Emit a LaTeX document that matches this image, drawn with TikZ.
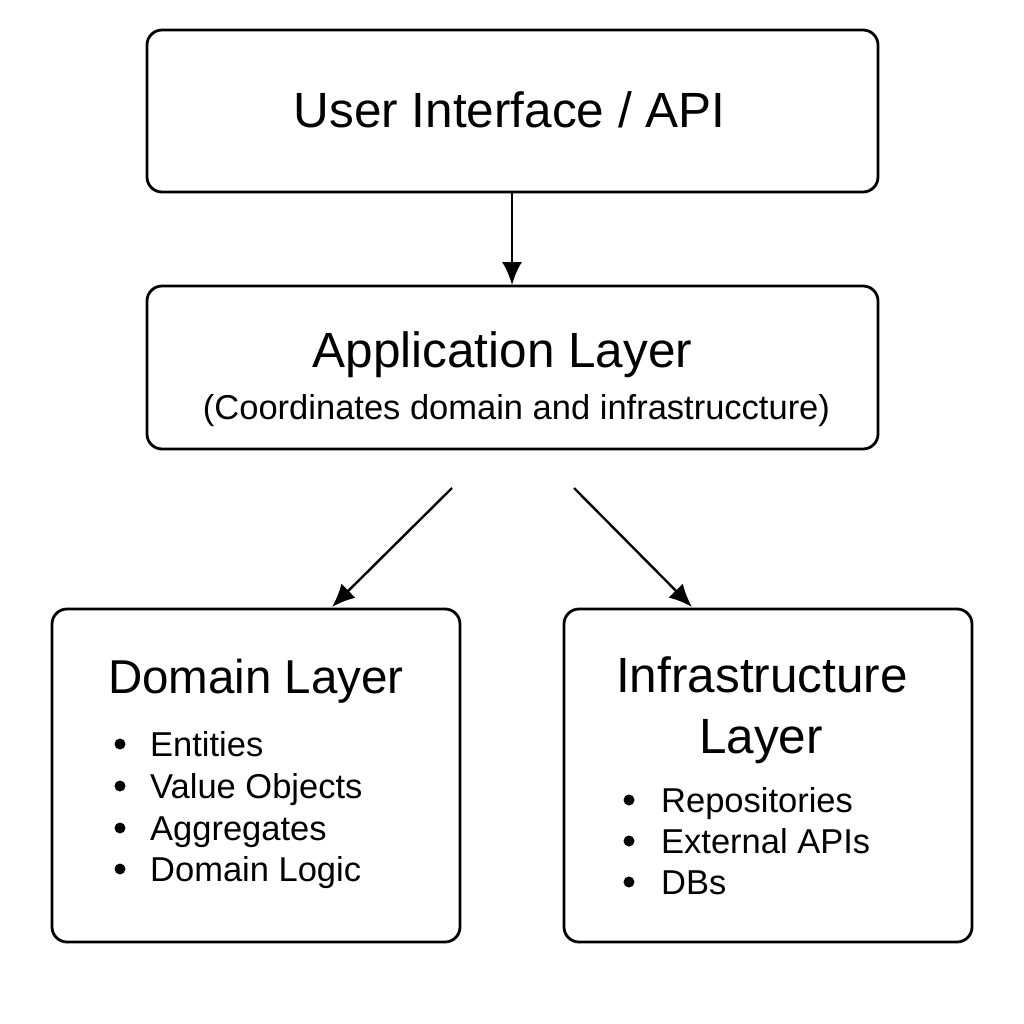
\documentclass[tikz,border=0pt]{standalone}
\usepackage{fontspec}
\setmainfont{Liberation Sans}
\usetikzlibrary{arrows.meta}
\begin{document}
\begin{tikzpicture}[x=1pt,y=-1pt,
  layerbox/.style={draw=black,line width=2.8pt,rounded corners=15pt},
  conn/.style={line width=2.4pt,-{Latex[length=23pt,width=20pt]}},
  bigtxt/.style={font=\fontsize{49.5}{56}\selectfont,inner sep=0pt,anchor=base},
  smalltxt/.style={font=\fontsize{34.5}{40}\selectfont,inner sep=0pt,anchor=base},
  listtxt/.style={font=\fontsize{34.5}{42}\selectfont,inner sep=0pt,anchor=base west}]
\useasboundingbox (0,0) rectangle (1024,1024);
\fill[white] (0,0) rectangle (1024,1024);
% boxes
\draw[layerbox] (147,30) rectangle (878,192);
\node (ui) at (512.5,111) [minimum width=731pt,minimum height=162pt,inner sep=0pt] {};
\draw[layerbox] (147,286) rectangle (878,449);
\node (app) at (512.5,367.5) [minimum width=731pt,minimum height=163pt,inner sep=0pt] {};
\draw[layerbox] (52,609) rectangle (460,942);
\node (dom) at (256,775.5) [minimum width=408pt,minimum height=333pt,inner sep=0pt] {};
\draw[layerbox] (564,609) rectangle (972,942);
\node (inf) at (768,775.5) [minimum width=408pt,minimum height=333pt,inner sep=0pt] {};
% texts
\node[bigtxt] (uit) at (509.5,128) {User Interface / API};
\node[bigtxt] (appt) at (502.5,367) {Application Layer};
\node[smalltxt] (appsub) at (516.5,419) {(Coordinates domain and infrastruccture)};
\node[bigtxt,font=\fontsize{47.5}{56}\selectfont] (domt) at (256,693) {Domain Layer};
\node[bigtxt] (inft1) at (762,692) {Infrastructure};
\node[bigtxt] (inft2) at (761,753) {Layer};
% bullets
\foreach \y/\t [count=\i] in {756/Entities,798/Value Objects,840/Aggregates,881/Domain Logic}{
  \fill (120,\y-12) circle (5.5pt);
  \node[listtxt] (d\i) at (150,\y) {\t};
}
\foreach \y/\t [count=\i] in {812/Repositories,853/External APIs,894/DBs}{
  \fill (629,\y-12) circle (5.5pt);
  \node[listtxt] (r\i) at (661,\y) {\t};
}
% connectors
\coordinate (s1) at (452,488);
\coordinate (e1) at (332,607);
\coordinate (s2) at (574,488);
\coordinate (e2) at (692,607);
\draw[conn] (ui.south -| 512,0) -- (512,285);
\draw[conn] (s1) -- (e1);
\draw[conn] (s2) -- (e2);
\end{tikzpicture}
\end{document}
